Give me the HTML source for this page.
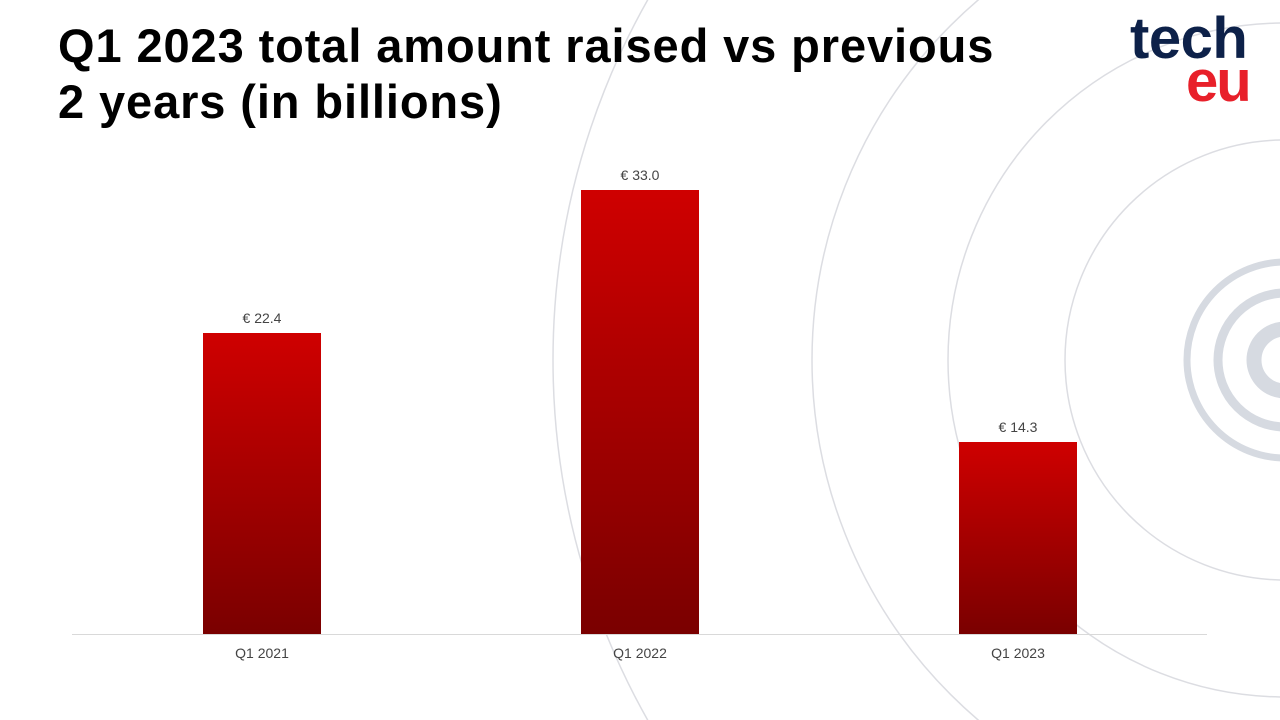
<!DOCTYPE html>
<html style="overflow:hidden"><head><meta charset="utf-8"><style>
html,body{margin:0;width:1280px;height:720px;overflow:hidden}
body{background:#fff;position:relative;font-family:"Liberation Sans",sans-serif}
h1{position:absolute;left:58px;top:18px;margin:0;font-size:47px;line-height:56px;font-weight:bold;color:#000;letter-spacing:0.9px;white-space:nowrap}
.bar{position:absolute;width:118px;background:linear-gradient(#cf0000,#7a0000)}
.lbl{position:absolute;width:118px;text-align:center;font-size:14px;color:#444}
</style></head><body>
<svg width="1280" height="720" style="position:absolute;left:0;top:0;display:block">
<g fill="none" stroke="#dcdde2" stroke-width="1.5">
<circle cx="1285" cy="360" r="220"/><circle cx="1285" cy="360" r="337"/><circle cx="1285" cy="360" r="473"/><circle cx="1285" cy="360" r="732"/>
</g>
<g fill="none" stroke="#d6dae1">
<circle cx="1285" cy="360" r="98" stroke-width="7"/><circle cx="1285" cy="360" r="67" stroke-width="9"/><circle cx="1285" cy="360" r="31" stroke-width="15"/>
</g>
<line x1="72" y1="634.5" x2="1207" y2="634.5" stroke="#d9d9d9"/>
</svg>
<h1>Q1 2023 total amount raised vs previous<br>2 years (in billions)</h1>
<div style="position:absolute;left:1130px;top:10px;font-size:58px;font-weight:bold;color:#0d2149;letter-spacing:-0.5px;line-height:58px">tech</div>
<div style="position:absolute;left:1186px;top:56px;font-size:58px;font-weight:bold;color:#e8202a;letter-spacing:-2px;line-height:52px">eu</div>
<div class="bar" style="left:203px;top:333px;height:301px"></div>
<div class="bar" style="left:581px;top:190px;height:444px"></div>
<div class="bar" style="left:959px;top:442px;height:192px"></div>
<div class="lbl" style="left:203px;top:310px">€ 22.4</div>
<div class="lbl" style="left:581px;top:167px">€ 33.0</div>
<div class="lbl" style="left:959px;top:419px">€ 14.3</div>
<div class="lbl" style="left:203px;top:645px">Q1 2021</div>
<div class="lbl" style="left:581px;top:645px">Q1 2022</div>
<div class="lbl" style="left:959px;top:645px">Q1 2023</div>
</body></html>
